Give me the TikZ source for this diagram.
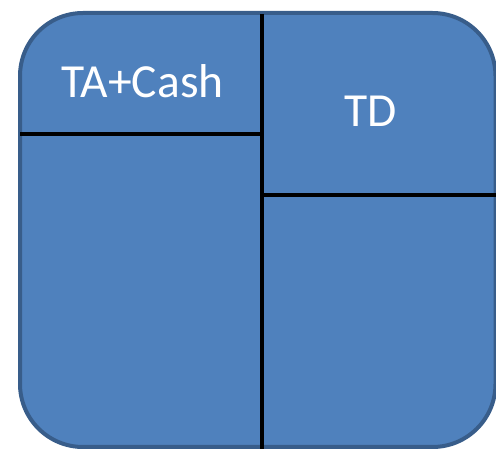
\documentclass[tikz,border=0pt]{standalone}
\usepackage{fontspec}
\setmainfont{Carlito}
\definecolor{boxfill}{HTML}{4F81BD}
\definecolor{boxline}{HTML}{385D8A}
\tikzset{
  panel/.style={fill=boxfill, draw=boxline, line width=4pt, rounded corners=63pt},
  divider/.style={draw=black, line width=4pt},
  label/.style={text=white, font=\fontsize{47.5pt}{52pt}\selectfont, inner sep=0pt, anchor=base}
}
\begin{document}
\begin{tikzpicture}[x=1pt,y=-1pt]
\useasboundingbox (0,0) rectangle (496,449);
\begin{scope}
\clip (0,0) rectangle (496,449);
\draw[panel] (20,13) rectangle (495.5,447);
\coordinate (vtop) at (262,14);
\coordinate (vbot) at (262,449);
\coordinate (hl1) at (20,134);
\coordinate (hl2) at (262,134);
\coordinate (hr1) at (262,195);
\coordinate (hr2) at (496,195);
\draw[divider] (vtop) -- (vbot);
\draw[divider] (hl1) -- (hl2);
\draw[divider] (hr1) -- (hr2);
\end{scope}
\node[label] (ta) at (142.5,97.7) {TA+Cash};
\node[label] (td) at (371,126.7) {TD};
\end{tikzpicture}
\end{document}
